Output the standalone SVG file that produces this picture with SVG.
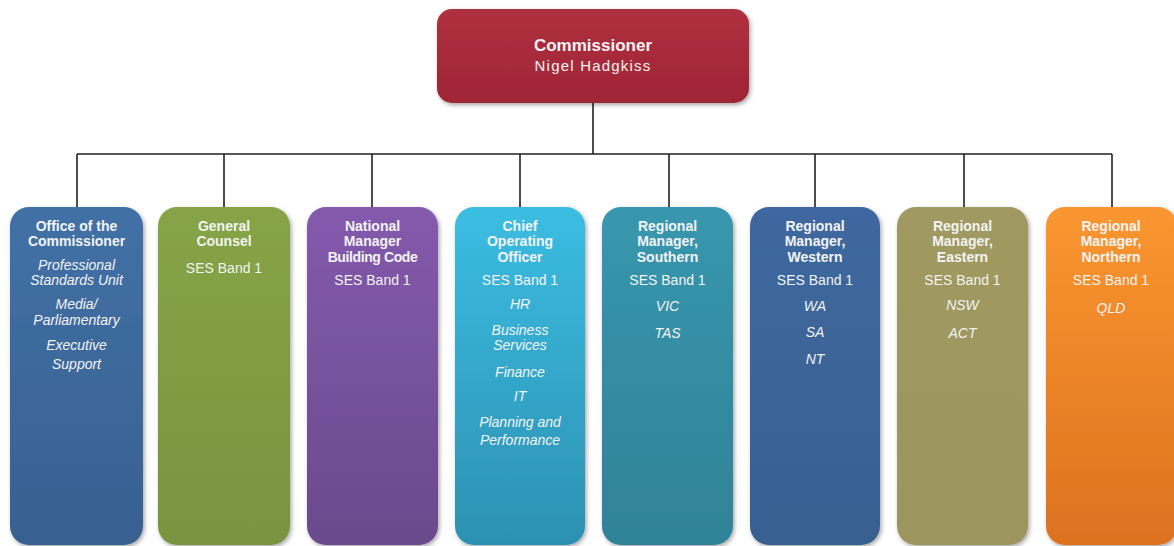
<svg xmlns="http://www.w3.org/2000/svg" width="1174" height="546" viewBox="0 0 1174 546">
<defs>
<filter id="sh" x="-10%" y="-10%" width="125%" height="125%"><feDropShadow dx="1.5" dy="2" stdDeviation="2" flood-color="#000" flood-opacity="0.35"/></filter>
<linearGradient id="gRed" x1="0" y1="0" x2="0" y2="1"><stop offset="0" stop-color="#b0303f"/><stop offset="1" stop-color="#9f2536"/></linearGradient>
<linearGradient id="g1" x1="0" y1="0" x2="0" y2="1"><stop offset="0" stop-color="#4271a6"/><stop offset="1" stop-color="#37608f"/></linearGradient>
<linearGradient id="g2" x1="0" y1="0" x2="0" y2="1"><stop offset="0" stop-color="#86a446"/><stop offset="1" stop-color="#789440"/></linearGradient>
<linearGradient id="g3" x1="0" y1="0" x2="0" y2="1"><stop offset="0" stop-color="#845aad"/><stop offset="1" stop-color="#6a4a8c"/></linearGradient>
<linearGradient id="g4" x1="0" y1="0" x2="0" y2="1"><stop offset="0" stop-color="#3bbde2"/><stop offset="1" stop-color="#2c91b2"/></linearGradient>
<linearGradient id="g5" x1="0" y1="0" x2="0" y2="1"><stop offset="0" stop-color="#3897ae"/><stop offset="1" stop-color="#2f8298"/></linearGradient>
<linearGradient id="g6" x1="0" y1="0" x2="0" y2="1"><stop offset="0" stop-color="#3f68a0"/><stop offset="1" stop-color="#38608f"/></linearGradient>
<linearGradient id="g7" x1="0" y1="0" x2="0" y2="1"><stop offset="0" stop-color="#a09a62"/><stop offset="1" stop-color="#9c955d"/></linearGradient>
<linearGradient id="g8" x1="0" y1="0" x2="0" y2="1"><stop offset="0" stop-color="#fa9630"/><stop offset="1" stop-color="#dc721f"/></linearGradient>
</defs>
<style>
.box{filter:url(#sh);}
text{font-family:"Liberation Sans",Arial,sans-serif;fill:#f3f3f3;text-anchor:middle;font-size:14px;}
.t{font-weight:bold;font-size:14px;}
.i{font-style:italic;}
.top1{font-weight:bold;font-size:17px;}
.top2{font-size:15px;letter-spacing:1.2px;}
.ln{stroke:#222;stroke-width:1.6;fill:none;}
</style>
<g id="connectors">
<path class="ln" d="M593 103 V154 M77 154 H1112 M77 154 V207 M224 154 V207 M372 154 V207 M520 154 V207 M669 154 V207 M815 154 V207 M964 154 V207 M1112 154 V207"/>
</g>
<g id="commissioner">
<rect class="box" x="437" y="9" width="312" height="94" rx="15" fill="url(#gRed)"/>
<text class="top1" x="593" y="51">Commissioner</text>
<text class="top2" x="593" y="71">Nigel Hadgkiss</text>
</g>
<g id="office">
<rect class="box" x="10" y="207" width="133" height="338" rx="19" fill="url(#g1)"/>
<text class="t" x="76.5" y="231">Office of the</text>
<text class="t" x="76.5" y="246">Commissioner</text>
<text class="i" x="76.5" y="270">Professional</text>
<text class="i" x="76.5" y="285">Standards Unit</text>
<text class="i" x="76.5" y="309">Media/</text>
<text class="i" x="76.5" y="325">Parliamentary</text>
<text class="i" x="76.5" y="350">Executive</text>
<text class="i" x="76.5" y="369">Support</text>
</g>
<g id="counsel">
<rect class="box" x="158" y="207" width="132" height="338" rx="19" fill="url(#g2)"/>
<text class="t" x="224" y="231">General</text>
<text class="t" x="224" y="246">Counsel</text>
<text x="224" y="273">SES Band 1</text>
</g>
<g id="building">
<rect class="box" x="307" y="207" width="131" height="338" rx="19" fill="url(#g3)"/>
<text class="t" x="372.5" y="231">National</text>
<text class="t" x="372.5" y="246">Manager</text>
<text class="t" x="372.5" y="262" letter-spacing="-0.4">Building Code</text>
<text x="372.5" y="285">SES Band 1</text>
</g>
<g id="coo">
<rect class="box" x="455" y="207" width="130" height="338" rx="19" fill="url(#g4)"/>
<text class="t" x="520" y="231">Chief</text>
<text class="t" x="520" y="246">Operating</text>
<text class="t" x="520" y="262">Officer</text>
<text x="520" y="285">SES Band 1</text>
<text class="i" x="520" y="309">HR</text>
<text class="i" x="520" y="335">Business</text>
<text class="i" x="520" y="350">Services</text>
<text class="i" x="520" y="377">Finance</text>
<text class="i" x="520" y="401">IT</text>
<text class="i" x="520" y="427">Planning and</text>
<text class="i" x="520" y="445">Performance</text>
</g>
<g id="southern">
<rect class="box" x="602" y="207" width="131" height="338" rx="19" fill="url(#g5)"/>
<text class="t" x="667.5" y="231">Regional</text>
<text class="t" x="667.5" y="246">Manager,</text>
<text class="t" x="667.5" y="262">Southern</text>
<text x="667.5" y="285">SES Band 1</text>
<text class="i" x="667.5" y="311">VIC</text>
<text class="i" x="667.5" y="338">TAS</text>
</g>
<g id="western">
<rect class="box" x="750" y="207" width="130" height="338" rx="19" fill="url(#g6)"/>
<text class="t" x="815" y="231">Regional</text>
<text class="t" x="815" y="246">Manager,</text>
<text class="t" x="815" y="262">Western</text>
<text x="815" y="285">SES Band 1</text>
<text class="i" x="815" y="311">WA</text>
<text class="i" x="815" y="337">SA</text>
<text class="i" x="815" y="364">NT</text>
</g>
<g id="eastern">
<rect class="box" x="897" y="207" width="131" height="338" rx="19" fill="url(#g7)"/>
<text class="t" x="962.5" y="231">Regional</text>
<text class="t" x="962.5" y="246">Manager,</text>
<text class="t" x="962.5" y="262">Eastern</text>
<text x="962.5" y="285">SES Band 1</text>
<text class="i" x="962.5" y="310">NSW</text>
<text class="i" x="962.5" y="338">ACT</text>
</g>
<g id="northern">
<rect class="box" x="1046" y="207" width="131" height="338" rx="19" fill="url(#g8)"/>
<text class="t" x="1111" y="231">Regional</text>
<text class="t" x="1111" y="246">Manager,</text>
<text class="t" x="1111" y="262">Northern</text>
<text x="1111" y="285">SES Band 1</text>
<text class="i" x="1111" y="313">QLD</text>
</g>
</svg>
